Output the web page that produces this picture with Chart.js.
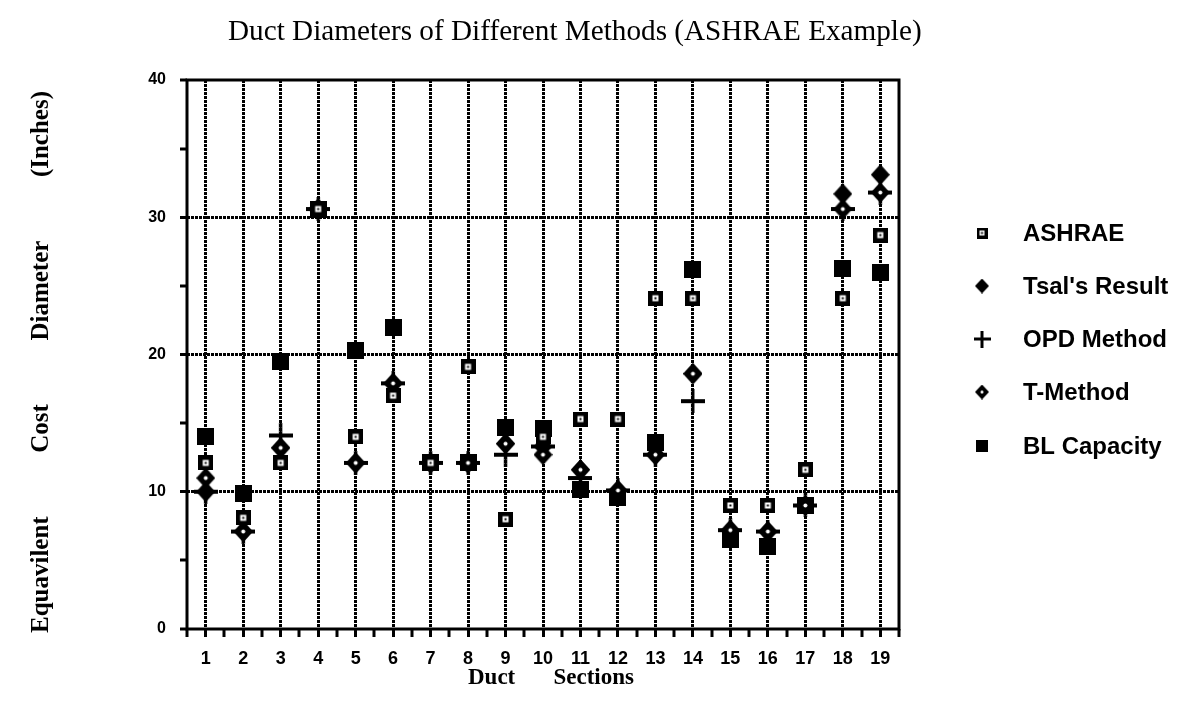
<!DOCTYPE html>
<html>
<head>
<meta charset="utf-8">
<title>Duct Diameters of Different Methods</title>
<script src="https://cdn.jsdelivr.net/npm/chart.js@4/dist/chart.umd.min.js"></script>
<style>
  html, body { margin: 0; padding: 0; background: #fff; }
  #wrap { width: 1181px; height: 712px; }
</style>
</head>
<body>
<div id="wrap"><canvas id="chartDuct" width="1181" height="712"></canvas></div>
<script>
'use strict';

// Duct section numbers (x axis)
const sections = [1, 2, 3, 4, 5, 6, 7, 8, 9, 10, 11, 12, 13, 14, 15, 16, 17, 18, 19];

// Equivalent diameters per method, inches
const ashrae     = [12.1, 8.1, 12.1, 30.6, 14.0, 17.0, 12.1, 19.1, 8.0, 14.0, 15.3, 15.3, 24.1, 24.1, 9.0, 9.0, 11.6, 24.1, 28.7];
const tsal       = [10.0, 7.1, 13.2, 30.6, 12.1, 17.9, 12.1, 12.1, 13.5, 13.3, 11.6, 10.1, 12.7, 18.6, 7.2, 7.1, 9.0, 31.7, 33.1];
const opd        = [10.0, 7.1, 14.1, 30.6, 12.1, 17.9, 12.1, 12.1, 12.7, 13.3, 11.0, 10.1, 12.7, 16.6, 7.2, 7.1, 9.0, 30.6, 31.8];
const tMethod    = [11.0, 7.1, 13.2, 30.6, 12.1, 17.9, 12.1, 12.1, 13.5, 12.7, 11.6, 10.1, 12.7, 18.6, 7.2, 7.1, 9.0, 30.6, 31.8];
const blCapacity = [14.0, 9.9, 19.5, 30.6, 20.3, 22.0, 12.1, 12.1, 14.7, 14.6, 10.2, 9.6, 13.6, 26.2, 6.5, 6.0, 9.0, 26.3, 26.0];

const yTickLabels = [0, 10, 20, 30, 40];

const seriesNames = ['ASHRAE', "Tsal's Result", 'OPD Method', 'T-Method', 'BL Capacity'];

// ---- marker glyphs ----
function makeMarker(w, h, draw) {
    const c = document.createElement('canvas');
    c.width = w; c.height = h;
    const g = c.getContext('2d');
    g.fillStyle = '#000';
    draw(g, w, h);
    return c;
}

function diamond(g, w, h) {
    g.beginPath();
    g.moveTo(w / 2, 0);
    g.lineTo(w, h / 2);
    g.lineTo(w / 2, h);
    g.lineTo(0, h / 2);
    g.closePath();
    g.fill();
}

function buildMarkers(s) {
    const sq = Math.round(15 * s), dw = Math.round(19 * s), dh = Math.round(21 * s), pl = Math.round(24 * s), bl = Math.round(17 * s);
    return {
        ashrae: makeMarker(sq, sq, (g, w, h) => {
            g.fillRect(0, 0, w, h);
            g.fillStyle = '#fff';
            const iw = Math.max(4, Math.round(w * 0.42));
            g.fillRect((w - iw) / 2, (h - iw) / 2, iw, iw);
            g.fillStyle = '#000';
            g.fillRect(w / 2 - 1, h / 2 - 1, 2, 2);
        }),
        tsal: makeMarker(dw, dh, diamond),
        opd: makeMarker(pl, pl, (g, w, h) => {
            const t = Math.max(3, Math.round(4 * s));
            g.fillRect(0, (h - t) / 2, w, t);
            g.fillRect((w - 3) / 2, 0, 3, h);
        }),
        tMethod: makeMarker(dw, dh, (g, w, h) => {
            diamond(g, w, h);
            g.fillStyle = '#fff';
            g.beginPath();
            g.arc(w / 2, h / 2, Math.max(1.5, 2 * s), 0, Math.PI * 2);
            g.fill();
        }),
        bl: makeMarker(bl, bl, (g, w, h) => g.fillRect(0, 0, w, h))
    };
}

const marks = buildMarkers(1);
const legendMarks = buildMarkers(0.72);

function pts(values) {
    return sections.map((s, i) => ({ x: s, y: values[i] }));
}

// spread words evenly between two points along the current x direction
function drawSpread(ctx, words, x0, x1, y) {
    const widths = words.map(w => ctx.measureText(w).width);
    const total = widths.reduce((a, b) => a + b, 0);
    const gap = (x1 - x0 - total) / (words.length - 1);
    let x = x0;
    ctx.textAlign = 'left';
    words.forEach((w, i) => {
        ctx.fillText(w, x, y);
        x += widths[i] + gap;
    });
}

// pick a font size so the text fills the given width
function fitFont(ctx, text, width, tmpl) {
    let size = 20;
    ctx.font = tmpl(size);
    size = size * width / ctx.measureText(text).width;
    ctx.font = tmpl(size);
}

// titles, frame and legend drawn straight onto the chart canvas
const decorPlugin = {
    id: 'decor',
    beforeDatasetsDraw(chart) {
        const { ctx, chartArea: a } = chart;
        ctx.save();
        ctx.strokeStyle = '#000';
        ctx.lineWidth = 3;
        ctx.strokeRect(a.left, a.top, a.right - a.left, a.bottom - a.top);
        ctx.restore();
    },
    afterDraw(chart) {
        const ctx = chart.ctx;
        ctx.save();
        ctx.fillStyle = '#000';
        ctx.textBaseline = 'alphabetic';

        // main title
        const title = 'Duct Diameters of Different Methods (ASHRAE Example)';
        fitFont(ctx, title, 694, s => s + 'px "Liberation Serif", "Times New Roman", serif');
        ctx.textAlign = 'left';
        ctx.fillText(title, 228, 40);

        // x axis title
        ctx.font = 'bold 23px "Liberation Serif", "Times New Roman", serif';
        drawSpread(ctx, ['Duct', 'Sections'], 468, 634, 684);

        // y axis title
        ctx.save();
        ctx.translate(48, 0);
        ctx.rotate(-Math.PI / 2);
        ctx.font = 'bold 25px "Liberation Serif", "Times New Roman", serif';
        drawSpread(ctx, ['Equavilent', 'Cost', 'Diameter', '(Inches)'], -633, -91, 0);
        ctx.restore();

        // legend
        const legendIcons = [legendMarks.ashrae, legendMarks.tsal, legendMarks.opd, legendMarks.tMethod, legendMarks.bl];
        const rowY = [233, 286, 339, 392, 446];
        ctx.font = 'bold 24px "Liberation Sans", Arial, sans-serif';
        ctx.textBaseline = 'middle';
        ctx.textAlign = 'left';
        seriesNames.forEach((name, i) => {
            const icon = legendIcons[i];
            ctx.drawImage(icon, 982 - icon.width / 2, rowY[i] - icon.height / 2);
            ctx.fillText(name, 1023, rowY[i] + 1);
        });
        ctx.restore();
    }
};

const gridDash = [3, 1];

new Chart(document.getElementById('chartDuct'), {
    type: 'scatter',
    data: {
        datasets: [
            { label: seriesNames[0], data: pts(ashrae), pointStyle: marks.ashrae, order: 0 },
            { label: seriesNames[1], data: pts(tsal), pointStyle: marks.tsal, order: 3 },
            { label: seriesNames[2], data: pts(opd), pointStyle: marks.opd, order: 2 },
            { label: seriesNames[3], data: pts(tMethod), pointStyle: marks.tMethod, order: 1 },
            { label: seriesNames[4], data: pts(blCapacity), pointStyle: marks.bl, order: 4 }
        ]
    },
    options: {
        responsive: false,
        animation: false,
        devicePixelRatio: 1,
        layout: { padding: { left: 0, top: 80, right: 282, bottom: 33 } },
        elements: { point: { radius: 8, hoverRadius: 8 } },
        plugins: {
            legend: { display: false },
            title: { display: false },
            tooltip: { enabled: false }
        },
        scales: {
            x: {
                type: 'linear',
                min: 0.5,
                max: 19.5,
                afterFit(scale) { scale.height = 50; },
                ticks: {
                    stepSize: 0.5,
                    autoSkip: false,
                    maxRotation: 0,
                    padding: 11,
                    color: '#000',
                    font: { family: '"Liberation Sans", Arial, sans-serif', size: 18, weight: 'bold' },
                    callback: v => (Number.isInteger(v) && sections.includes(v)) ? String(v) : ''
                },
                grid: {
                    color: '#000',
                    lineWidth: c => (c.tick && Number.isInteger(c.tick.value) && sections.includes(c.tick.value)) ? 3 : 0,
                    tickColor: '#000',
                    tickLength: 8,
                    tickWidth: 3
                },
                border: { display: false, dash: gridDash }
            },
            y: {
                min: 0,
                max: 40,
                afterFit(scale) { scale.width = 187; },
                ticks: {
                    stepSize: 5,
                    padding: 14,
                    color: '#000',
                    font: { family: '"Liberation Sans", Arial, sans-serif', size: 16, weight: 'bold' },
                    callback: v => yTickLabels.includes(v) ? String(v) : ''
                },
                grid: {
                    color: '#000',
                    lineWidth: c => (c.tick && [10, 20, 30].includes(c.tick.value)) ? 3 : 0,
                    tickColor: '#000',
                    tickLength: 7,
                    tickWidth: 3
                },
                border: { display: false, dash: gridDash }
            }
        }
    },
    plugins: [decorPlugin]
});
</script>
</body>
</html>
